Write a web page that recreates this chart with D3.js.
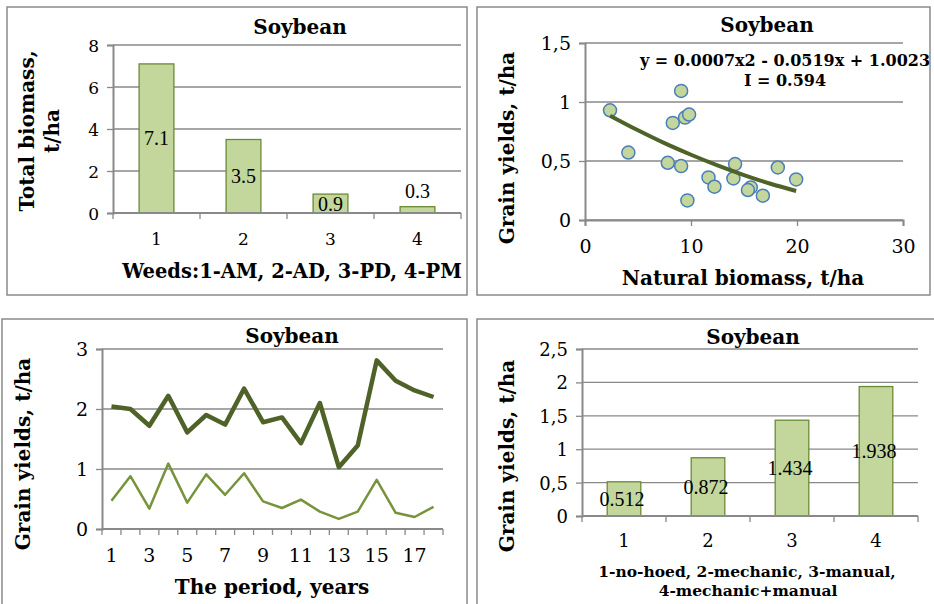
<!DOCTYPE html>
<html>
<head>
<meta charset="utf-8">
<script src="https://cdn.jsdelivr.net/npm/d3@7"></script>
<style>
  body { margin: 0; background: #fff; }
  svg text { fill: #000; }
  .tick text { font-family: "DejaVu Serif", serif; }
  .ttl { font-family: "DejaVu Serif", serif; font-weight: bold; }
  .lbl { font-family: "Liberation Serif", "Times New Roman", serif; }
</style>
</head>
<body>
<svg id="chart" width="934" height="604"></svg>
<script>
// Data
// panel 1: weed biomass
var weedCats = ["1", "2", "3", "4"];
var weedBiomass = [7.1, 3.5, 0.9, 0.3];
var weedTicks = [0, 2, 4, 6, 8];

// panel 2: grain yield vs natural biomass, one point per year
var natBiomass = [2.36, 4.09, 9.07, 8.28, 9.44, 9.82, 7.81, 9.07, 9.66, 11.65, 12.21, 14.16, 14.0, 15.64, 15.37, 16.78, 18.19, 19.92];
var natYield = [0.93, 0.572, 1.094, 0.823, 0.868, 0.894, 0.485, 0.457, 0.166, 0.361, 0.282, 0.474, 0.352, 0.276, 0.254, 0.206, 0.445, 0.344];
// trend curve
var trendX = [2.36, 5, 7.5, 10, 12.5, 15, 17.5, 19.92];
var trendY = [0.884, 0.76, 0.651, 0.553, 0.463, 0.381, 0.307, 0.246];
var scatterXTicks = [0, 10, 20, 30];
var scatterYTicks = [0, 0.5, 1, 1.5];

// panel 3: yields by year
var years = d3.range(1, 19);
var yieldHigh = [2.04, 2.0, 1.72, 2.22, 1.61, 1.9, 1.74, 2.34, 1.78, 1.86, 1.43, 2.1, 1.03, 1.39, 2.81, 2.47, 2.31, 2.2];
var yieldLow = [0.47, 0.88, 0.34, 1.09, 0.44, 0.91, 0.57, 0.93, 0.46, 0.35, 0.49, 0.29, 0.17, 0.29, 0.82, 0.27, 0.2, 0.37];
var yearTicks = [0, 1, 2, 3];

// panel 4: yields by weed control
var ctrlCats = ["1", "2", "3", "4"];
var ctrlYield = [0.512, 0.872, 1.434, 1.938];
var ctrlTicks = [0, 0.5, 1, 1.5, 2, 2.5];

const gridColor = "#898989";
const barFill = "#c3d69b";
const barStroke = "#6b8a34";
const darkGreen = "#4f6228";
const lightGreen = "#77933c";

const svg = d3.select("#chart");

const commaFmt = d => String(d).replace(".", ",");

// Helpers
function panelBox(x, y, w, h) {
  svg.append("rect")
    .attr("x", x).attr("y", y).attr("width", w).attr("height", h)
    .attr("fill", "none").attr("stroke", "#8a8a8a").attr("stroke-width", 1.5);
}

function addText(x, y, txt, size, opts) {
  opts = opts || {};
  var t = svg.append("text")
    .attr("class", opts.cls || "ttl")
    .attr("x", x).attr("y", y)
    .attr("text-anchor", opts.anchor || "middle")
    .style("font-size", size + "px")
    .text(txt);
  if (opts.rotate) t.attr("transform", `rotate(-90,${x},${y})`);
  return t;
}

function yAxisWithGrid(yscale, ticks, x0, x1, fmt, fsize) {
  svg.append("g")
    .selectAll("line")
    .data(ticks)
    .enter()
    .append("line")
    .attr("x1", x0).attr("x2", x1)
    .attr("y1", d => yscale(d)).attr("y2", d => yscale(d))
    .attr("stroke", gridColor).attr("stroke-width", 1.3);

  const ax = svg.append("g")
    .attr("transform", `translate(${x0},0)`)
    .call(d3.axisLeft(yscale).tickValues(ticks).tickFormat(fmt).tickSize(6).tickPadding(8));
  ax.select(".domain").attr("stroke", gridColor).attr("stroke-width", 2);
  ax.selectAll(".tick line").attr("stroke", gridColor).attr("stroke-width", 1.3);
  ax.selectAll(".tick text").style("font-size", fsize + "px").attr("dy", "0.36em");
  return ax;
}

function bandAxis(xscale, y, labelFilter, fsize, labelDy) {
  const g = svg.append("g");
  var r = xscale.range();
  g.append("line")
    .attr("x1", r[0]).attr("x2", r[1]).attr("y1", y).attr("y2", y)
    .attr("stroke", gridColor).attr("stroke-width", 2);
  var edges = xscale.domain().map(d => xscale(d)).concat([r[1]]);
  g.selectAll("line.tk")
    .data(edges)
    .enter()
    .append("line")
    .attr("class", "tk")
    .attr("x1", d => d).attr("x2", d => d)
    .attr("y1", y).attr("y2", y + 6)
    .attr("stroke", gridColor).attr("stroke-width", 1.3);
  g.selectAll("text")
    .data(xscale.domain().filter(labelFilter))
    .enter()
    .append("text")
    .attr("x", d => xscale(d) + xscale.bandwidth() / 2)
    .attr("y", y + labelDy)
    .attr("text-anchor", "middle")
    .style("font-family", "DejaVu Serif, serif")
    .style("font-size", fsize + "px")
    .text(d => d);
}

// ---------- Panel 1: Total biomass ----------
panelBox(7, 7, 460, 288);

const x1 = d3.scaleBand().domain(weedCats).range([113, 461]);
const y1 = d3.scaleLinear().domain([0, 8]).range([213, 45]);

yAxisWithGrid(y1, weedTicks, 113, 461, d => d, 17);

svg.append("g")
  .selectAll("rect")
  .data(weedBiomass)
  .enter()
  .append("rect")
  .attr("x", (d, i) => x1(weedCats[i]) + x1.bandwidth() * 0.3)
  .attr("width", x1.bandwidth() * 0.4)
  .attr("y", d => y1(d))
  .attr("height", d => y1(0) - y1(d))
  .attr("fill", barFill)
  .attr("stroke", barStroke)
  .attr("stroke-width", 1.3);

bandAxis(x1, 213, d => true, 17, 32);

svg.append("g")
  .selectAll("text")
  .data(weedBiomass)
  .enter()
  .append("text")
  .attr("class", "lbl")
  .attr("x", (d, i) => x1(weedCats[i]) + x1.bandwidth() / 2)
  .attr("y", d => (y1(0) - y1(d)) > 18 ? (y1(0) + y1(d)) / 2 : y1(d) - 16)
  .attr("dy", "0.35em")
  .attr("text-anchor", "middle")
  .style("font-size", "20px")
  .text(d => d.toFixed(1));

addText(300, 34, "Soybean", 20);
addText(34, 131, "Total biomass,", 20, { rotate: true });
addText(59, 131, "t/ha", 20, { rotate: true });
addText(292, 278, "Weeds:1-AM, 2-AD, 3-PD, 4-PM", 19.5);

// ---------- Panel 2: scatter ----------
panelBox(477, 7, 453, 288);

const x2 = d3.scaleLinear().domain([0, 30]).range([585, 903]);
const y2 = d3.scaleLinear().domain([0, 1.5]).range([220, 43]);

yAxisWithGrid(y2, scatterYTicks, 585, 903, commaFmt, 19);

const ax2 = svg.append("g")
  .attr("transform", "translate(0,220)")
  .call(d3.axisBottom(x2).tickValues(scatterXTicks).tickSize(6).tickPadding(14));
ax2.select(".domain").attr("stroke", gridColor).attr("stroke-width", 2);
ax2.selectAll(".tick line").attr("stroke", gridColor).attr("stroke-width", 1.3);
ax2.selectAll(".tick text").style("font-size", "19px");

svg.append("g")
  .selectAll("circle")
  .data(natBiomass)
  .enter()
  .append("circle")
  .attr("cx", d => x2(d))
  .attr("cy", (d, i) => y2(natYield[i]))
  .attr("r", 6.5)
  .attr("fill", barFill)
  .attr("stroke", "#4a7ebb")
  .attr("stroke-width", 1.5);

const trendLine = d3.line()
  .x((d, i) => x2(trendX[i]))
  .y(d => y2(d))
  .curve(d3.curveMonotoneX);

svg.append("path")
  .attr("d", trendLine(trendY))
  .attr("fill", "none")
  .attr("stroke", darkGreen)
  .attr("stroke-width", 4);

addText(767, 32, "Soybean", 20);
addText(785, 66, "y = 0.0007x2 - 0.0519x + 1.0023", 16);
addText(785, 86, "I = 0.594", 16);
addText(514, 148, "Grain yields,  t/ha", 20, { rotate: true });
addText(743, 285, "Natural biomass, t/ha", 20);

// ---------- Panel 3: yields by year ----------
panelBox(2, 319, 465, 295);

const x3 = d3.scaleBand().domain(years).range([102, 443]);
const y3 = d3.scaleLinear().domain([0, 3]).range([529, 349]);

yAxisWithGrid(y3, yearTicks, 102, 443, d => d, 19);
bandAxis(x3, 529, d => d % 2 === 1, 19, 33);

const yearLine = d3.line()
  .x((d, i) => x3(years[i]) + x3.bandwidth() / 2)
  .y(d => y3(d));

svg.append("path")
  .attr("d", yearLine(yieldHigh))
  .attr("fill", "none")
  .attr("stroke", darkGreen)
  .attr("stroke-width", 4.5)
  .attr("stroke-linejoin", "round");

svg.append("path")
  .attr("d", yearLine(yieldLow))
  .attr("fill", "none")
  .attr("stroke", lightGreen)
  .attr("stroke-width", 2.5)
  .attr("stroke-linejoin", "round");

addText(292, 343, "Soybean", 20);
addText(30, 454, "Grain yields,  t/ha", 20, { rotate: true });
addText(272, 594, "The period, years", 20);

// ---------- Panel 4: yields by weed control ----------
panelBox(477, 319, 465, 295);

const x4 = d3.scaleBand().domain(ctrlCats).range([582, 918]);
const y4 = d3.scaleLinear().domain([0, 2.5]).range([516, 349]);

yAxisWithGrid(y4, ctrlTicks, 582, 918, commaFmt, 18);

svg.append("g")
  .selectAll("rect")
  .data(ctrlYield)
  .enter()
  .append("rect")
  .attr("x", (d, i) => x4(ctrlCats[i]) + x4.bandwidth() * 0.3)
  .attr("width", x4.bandwidth() * 0.4)
  .attr("y", d => y4(d))
  .attr("height", d => y4(0) - y4(d))
  .attr("fill", barFill)
  .attr("stroke", barStroke)
  .attr("stroke-width", 1.3);

bandAxis(x4, 516, d => true, 18, 31);

svg.append("g")
  .selectAll("text")
  .data(ctrlYield)
  .enter()
  .append("text")
  .attr("class", "lbl")
  .attr("x", (d, i) => x4(ctrlCats[i]) + x4.bandwidth() / 2 - 2)
  .attr("y", d => (y4(0) + y4(d)) / 2)
  .attr("dy", "0.35em")
  .attr("text-anchor", "middle")
  .style("font-size", "20px")
  .text(d => d.toFixed(3));

addText(753, 344, "Soybean", 20);
addText(514, 456, "Grain yields,  t/ha", 20, { rotate: true });
addText(747, 577, "1-no-hoed, 2-mechanic, 3-manual,", 15.5);
addText(748, 596, "4-mechanic+manual", 15.5);
</script>
</body>
</html>
